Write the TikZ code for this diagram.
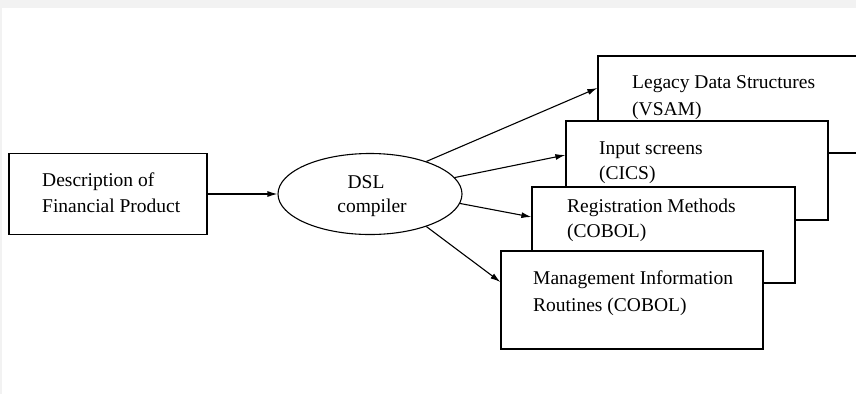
\documentclass[tikz,border=0pt]{standalone}
\usepackage{fontspec}
\setmainfont{Liberation Serif}
\usetikzlibrary{shapes.geometric,arrows.meta}
\definecolor{bggray}{HTML}{F2F2F2}
\begin{document}
\begin{tikzpicture}[x=1pt,y=-1pt,
  boxstyle/.style={draw=black,fill=white,line width=1.3pt,inner sep=0pt,rectangle},
  txt/.style={anchor=base west,inner sep=0pt,font=\fontsize{19.5}{26}\selectfont},
  ctxt/.style={anchor=base,inner sep=0pt,font=\fontsize{19.5}{26}\selectfont},
  arr/.style={draw=black,line width=1.1pt,-{Latex[length=10pt,width=6pt]}}]
\useasboundingbox (0,0) rectangle (856,394);
\clip (0,0) rectangle (856,394);
\fill[bggray] (0,0) rectangle (856,394);
\fill[white] (2,8) rectangle (856,394);
% description box
\node[boxstyle,minimum width=198pt,minimum height=81pt] (desc) at (108,194) {};
\node[txt] (d1) at (42,186) {Description of};
\node[txt] (d2) at (42,212) {Financial Product};
% ellipse
\node[draw=black,line width=1.1pt,ellipse,inner sep=0pt,minimum width=184pt,minimum height=81pt] (dsl) at (370,194) {};
\node[ctxt] (s1) at (366,188) {DSL};
\node[ctxt] (s2) at (372,212) {compiler};
% stacked boxes
\node[boxstyle,minimum width=272pt,minimum height=97pt] (legacy) at (734,104.5) {};
\node[txt] (l1) at (632,88) {Legacy Data Structures};
\node[txt] (l2) at (632,115) {(VSAM)};
\node[boxstyle,minimum width=262pt,minimum height=99pt] (input) at (697,170.5) {};
\node[txt] (i1) at (599,154) {Input screens};
\node[txt] (i2) at (599,179) {(CICS)};
\node[boxstyle,minimum width=263pt,minimum height=96pt] (reg) at (663.5,235) {};
\node[txt] (r1) at (567,212) {Registration Methods};
\node[txt] (r2) at (567,237) {(COBOL)};
\node[boxstyle,minimum width=262pt,minimum height=98pt] (mgmt) at (632,300) {};
\node[txt] (m1) at (533,284) {Management Information};
\node[txt] (m2) at (533,311) {Routines (COBOL)};
% arrows
\draw[arr] (desc.east) -- (dsl.west);
\draw[arr] (dsl.30) -- ([yshift=16.5pt]legacy.west);
\draw[arr] (dsl.11) -- ([yshift=15.5pt]input.west);
\draw[arr] (dsl.-6) -- ([yshift=18pt]reg.west);
\draw[arr] (dsl.-30) -- ([yshift=18pt]mgmt.west);
\end{tikzpicture}
\end{document}
